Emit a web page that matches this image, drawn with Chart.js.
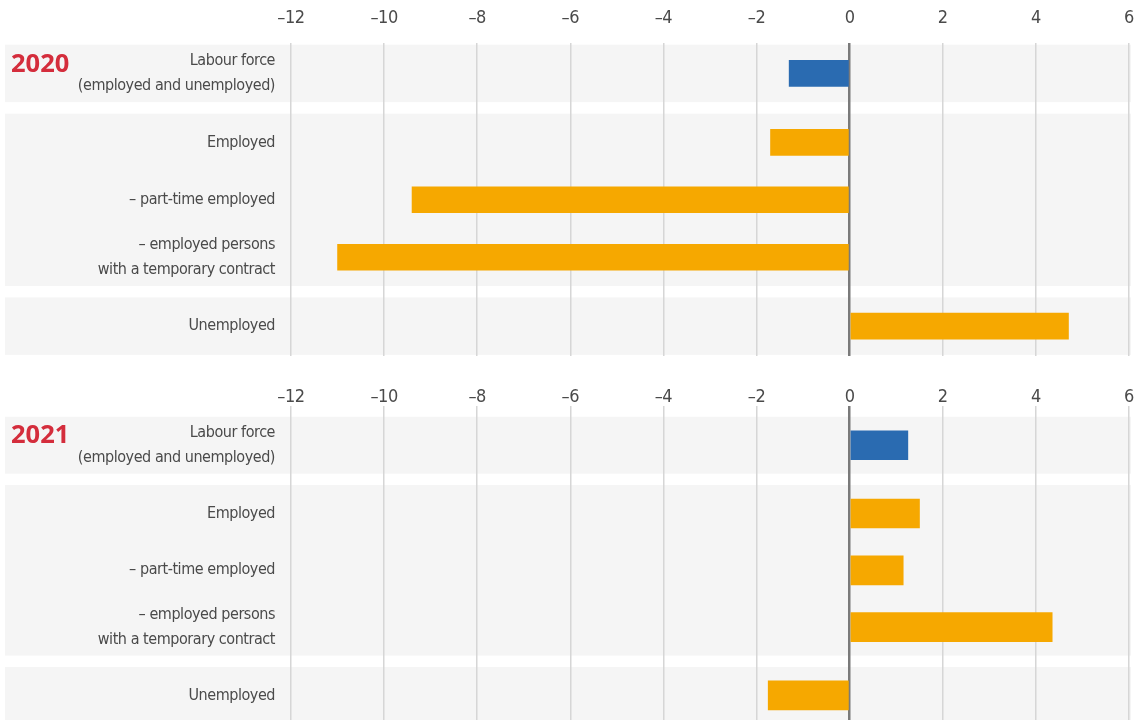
<!DOCTYPE html>
<html>
<head>
<meta charset="utf-8">
<script src="https://cdn.jsdelivr.net/npm/chart.js@4"></script>
<style>
  html, body { margin: 0; padding: 0; background: #ffffff; overflow: hidden; }
  body { width: 1145px; height: 720px; position: relative; }
  .panel { position: absolute; left: 0; width: 1145px; }
  .year { position: absolute; left: 11px; font-family: "Open Sans", sans-serif; font-weight: 700;
          font-size: 25.5px; color: #d42d3c; line-height: 1; z-index: 2; }
</style>
</head>
<body>
<div class="panel" id="p1" style="top:0px;height:356px;"><canvas id="c1"></canvas></div>
<div class="panel" id="p2" style="top:363px;height:362px;"><canvas id="c2"></canvas></div>
<div class="year" style="top:50px;">2020</div>
<div class="year" style="top:421px;">2021</div>
<script>
// ---- data ----
const categories = [
  ["Labour force", "(employed and unemployed)"],
  "Employed",
  "– part-time employed",
  ["– employed persons", "with a temporary contract"],
  "Unemployed"
];
const groups = [0, 1, 1, 1, 2];            // bands the rows belong to
const kinds = ["total", "sub", "sub", "sub", "sub"];
const values2020 = [-1.3, -1.7, -9.4, -11.0, 4.7];
const values2021 = [1.25, 1.5, 1.15, 4.35, -1.75];
const xTicks = [-12, -10, -8, -6, -4, -2, 0, 2, 4, 6];

// ---- layout helpers ----
const GAP = 0.2;
const rowPos = categories.map((c, i) => i + groups[i] * GAP);
const colors = { total: "#2a6bb1", sub: "#f6a800" };
const FONT = '"Liberation Sans Narrow", "DejaVu Sans Condensed", sans-serif';
const TEXT = "#4a4a4a";

const bandsPlugin = {
  id: "bands",
  beforeDraw(chart) {
    const ctx = chart.ctx, y = chart.scales.y;
    const uniq = [...new Set(groups)];
    ctx.save();
    ctx.fillStyle = "#f5f5f5";
    uniq.forEach(g => {
      const ps = rowPos.filter((p, i) => groups[i] === g);
      const top = y.getPixelForValue(Math.min(...ps) - 0.5);
      const bot = y.getPixelForValue(Math.max(...ps) + 0.5);
      ctx.fillRect(5, top, chart.width - 14 - 5, bot - top);
    });
    ctx.restore();
    if ("letterSpacing" in ctx) ctx.letterSpacing = "-0.45px";
  }
};

function makeChart(id, values, opts) {
  return new Chart(document.getElementById(id), {
    type: "bar",
    data: {
      datasets: [{
        data: values.map((v, i) => ({ x: v, y: rowPos[i] })),
        backgroundColor: kinds.map(k => colors[k]),
        barThickness: opts.barThickness,
        borderWidth: 0
      }]
    },
    options: {
      indexAxis: "y",
      responsive: true,
      maintainAspectRatio: false,
      animation: false,
      layout: { padding: { left: 0, right: 16, top: 0, bottom: 0 } },
      plugins: { legend: { display: false }, tooltip: { enabled: false } },
      scales: {
        x: {
          type: "linear",
          position: "top",
          min: xTicks[0],
          max: xTicks[xTicks.length - 1],
          afterFit(scale) {
            scale.height = 43;
            scale.paddingLeft = 0;
            scale.paddingRight = 0;
          },
          afterBuildTicks(scale) { scale.ticks = xTicks.map(v => ({ value: v })); },
          border: { display: false },
          grid: {
            drawTicks: false,
            color: c => (c.tick && c.tick.value === 0) ? "#7a7a7a" : "#d6d6d6",
            lineWidth: c => (c.tick && c.tick.value === 0) ? 2.5 : 1.5
          },
          ticks: {
            padding: opts.tickPad,
            color: TEXT,
            font: { family: FONT, size: 18 },
            callback: v => v < 0 ? "\u2013" + Math.abs(v) : String(v)
          }
        },
        y: {
          type: "linear",
          reverse: true,
          offset: false,
          min: opts.yMin,
          max: opts.yMax,
          afterFit(scale) {
            scale.width = 291;
            scale.paddingTop = 0;
            scale.paddingBottom = 0;
          },
          afterBuildTicks(scale) { scale.ticks = rowPos.map(v => ({ value: v })); },
          border: { display: false },
          grid: { display: false, drawTicks: false },
          ticks: {
            padding: 16,
            color: TEXT,
            font: { family: FONT, size: 16, lineHeight: 1.55 },
            callback: (v, i) => categories[i]
          }
        }
      }
    },
    plugins: [bandsPlugin]
  });
}

makeChart("c1", values2020, { yMin: -0.53, yMax: 4.92, tickPad: 14, barThickness: 26 });
makeChart("c2", values2021, { yMin: -0.69, yMax: 4.92, tickPad: -2, barThickness: 29 });
</script>
</body>
</html>
